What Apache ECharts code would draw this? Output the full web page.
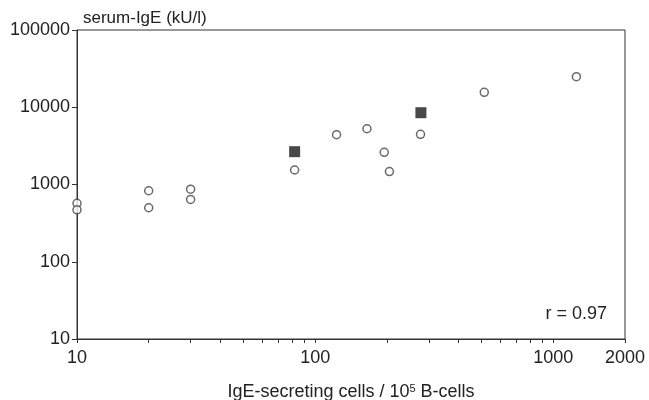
<!DOCTYPE html>
<html>
<head>
<meta charset="utf-8">
<script src="https://cdn.jsdelivr.net/npm/echarts@6/dist/echarts.min.js"></script>
<style>
  html, body { margin: 0; padding: 0; background: #fff; }
  #chart { width: 649px; height: 400px; }
</style>
</head>
<body>
<div id="chart"></div>
<script>
// open circles
var circleX = [10, 10, 20, 20, 30, 30, 82, 123, 165, 195, 205, 277, 513, 1250];
var circleY = [570, 470, 830, 500, 870, 640, 1540, 4410, 5270, 2610, 1470, 4460, 15600, 24900];
// filled squares
var squareX = [82, 278];
var squareY = [2660, 8500];

var xLabels = [10, 100, 1000, 2000];
var xTicks = [10, 20, 30, 40, 50, 60, 70, 80, 90, 100, 200, 300, 400, 500, 600, 700, 800, 900, 1000, 2000];
var yLabels = [10, 100, 1000, 10000, 100000];

function pairs(xs, ys) {
  var out = [];
  for (var i = 0; i < xs.length; i++) out.push([xs[i], ys[i]]);
  return out;
}

var font = '"Liberation Sans", Arial, sans-serif';
var chart = echarts.init(document.getElementById('chart'));

chart.setOption({
  animation: false,
  grid: {
    left: 77, top: 30, right: 24, bottom: 61,
    outerBoundsMode: 'none',
    show: true, borderColor: '#333', borderWidth: 1
  },
  xAxis: {
    type: 'log', logBase: 10, min: 10, max: 2000,
    name: 'IgE-secreting cells / 10{sup|5} B-cells',
    nameLocation: 'middle', nameGap: 44,
    nameTextStyle: {
      color: '#222', fontSize: 18, fontFamily: font,
      rich: { sup: { fontSize: 11, verticalAlign: 'top', padding: [0, 0, 8, 0], fontFamily: font, color: '#222' } }
    },
    axisLine: { lineStyle: { color: '#333', width: 1 } },
    axisTick: { customValues: xTicks, length: 4, lineStyle: { color: '#333' } },
    axisLabel: {
      customValues: xLabels, margin: 10, color: '#222', fontSize: 18, fontFamily: font,
      formatter: function (v) { return String(Math.round(v)); }
    },
    splitLine: { show: false },
    minorTick: { show: false }
  },
  yAxis: {
    type: 'log', logBase: 10, min: 10, max: 100000,
    name: 'serum-IgE (kU/l)',
    nameLocation: 'end', nameGap: 3,
    nameTextStyle: { color: '#222', fontSize: 17, fontFamily: font, align: 'left', verticalAlign: 'bottom', padding: [0, 0, 0, 6] },
    axisLine: { lineStyle: { color: '#333', width: 1 } },
    axisTick: { customValues: yLabels, length: 5, lineStyle: { color: '#333' } },
    axisLabel: {
      customValues: yLabels, margin: 7, color: '#222', fontSize: 18, fontFamily: font,
      formatter: function (v) { return String(Math.round(v)); }
    },
    splitLine: { show: false }
  },
  graphic: [{
    type: 'text', right: 42, top: 305,
    style: { text: 'r = 0.97', fill: '#222', fontSize: 18, fontFamily: font }
  }],
  series: [
    {
      type: 'scatter', name: 'circles', symbol: 'circle', symbolSize: 8,
      itemStyle: { color: '#fff', borderColor: '#444', borderWidth: 1.5 },
      data: pairs(circleX, circleY)
    },
    {
      type: 'scatter', name: 'squares', symbol: 'rect', symbolSize: 11,
      itemStyle: { color: '#1a1a1a' },
      data: pairs(squareX, squareY)
    }
  ]
});
</script>
</body>
</html>
